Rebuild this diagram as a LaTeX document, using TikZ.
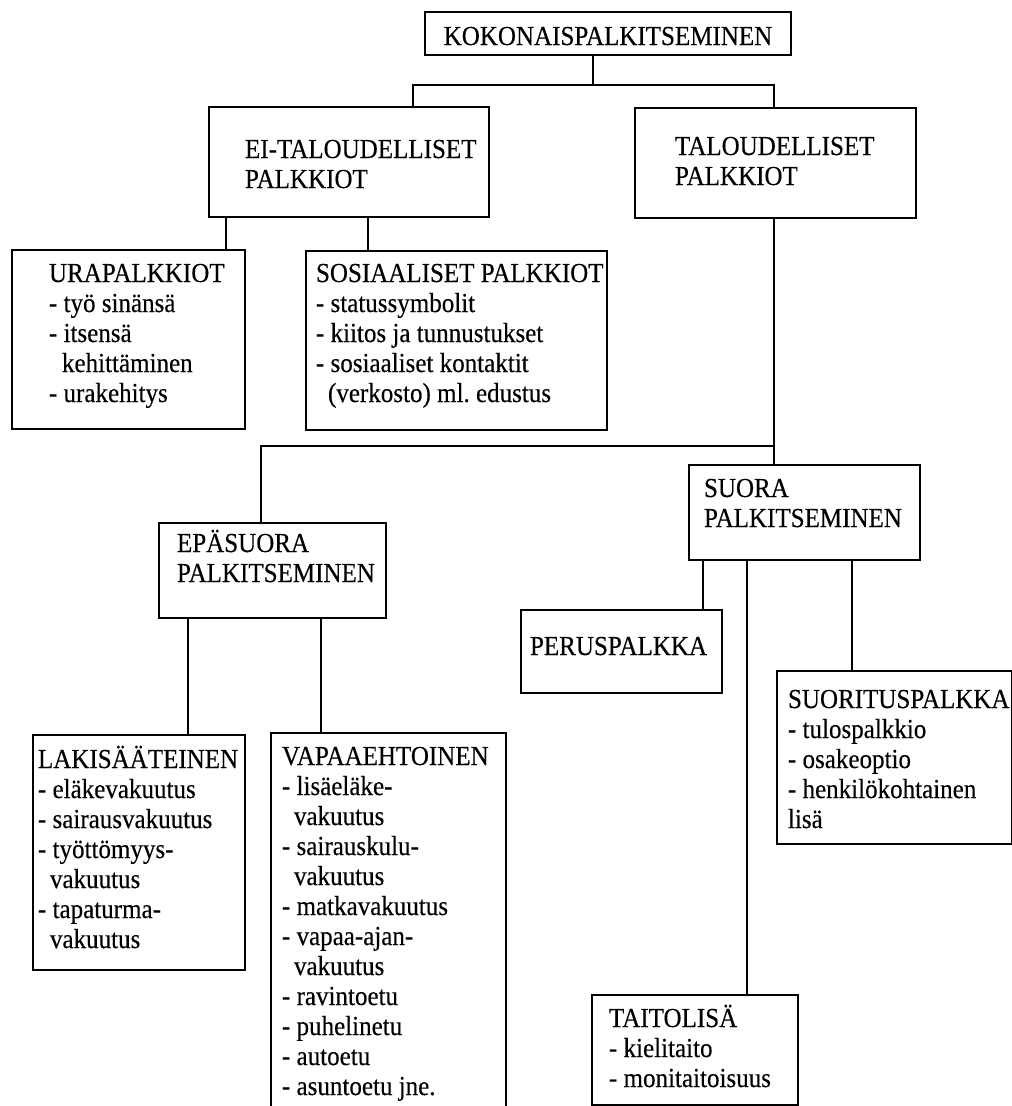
\documentclass[tikz,border=0pt]{standalone}
\usepackage{fontspec}
\setmainfont{Liberation Serif}[FakeStretch=0.91, FakeBold=0.3]
\frenchspacing

\begin{document}
\begin{tikzpicture}[
    x=1pt, y=-1pt,
    box/.style={draw, line width=2pt, inner sep=0pt, anchor=north west,
                align=flush left, font=\fontsize{27.5}{30}\selectfont},
    link/.style={line width=2pt},
]
    \useasboundingbox (0,0) rectangle (1012,1106);

    % Top levels
    \node[box, align=center, minimum width=366pt, text height=33pt, text depth=10pt] (kok) at (424,11) {KOKONAISPALKITSEMINEN};
    \node[box, minimum width=280pt, text width=208pt, text height=51pt, text depth=59pt] (ei) at (208,106) {\mbox{EI-TALOUDELLISET}\\PALKKIOT};
    \node[box, minimum width=281pt, text width=201pt, text height=47pt, text depth=63pt] (tal) at (634,107) {TALOUDELLISET\\PALKKIOT};

    % Non-financial
    \node[box, minimum width=233pt, text width=159pt, text height=32pt, text depth=147pt] (ura) at (11,249) {URAPALKKIOT\\- työ sinänsä\\- itsensä\\\hspace*{13pt}kehittäminen\\- urakehitys};
    \node[box, minimum width=301pt, text width=281pt, text height=31pt, text depth=148pt] (sos) at (305,250) {\mbox{SOSIAALISET PALKKIOT}\\- statussymbolit\\- kiitos ja tunnustukset\\- sosiaaliset kontaktit\\\hspace*{12pt}(verkosto) ml. edustus};

    % Financial
    \node[box, minimum width=231pt, text width=201pt, text height=32pt, text depth=63pt] (suora) at (688,464) {SUORA\\PALKITSEMINEN};
    \node[box, minimum width=227pt, text width=191pt, text height=29pt, text depth=66pt] (epa) at (158,522) {EPÄSUORA\\PALKITSEMINEN};
    \node[box, minimum width=201pt, text width=183pt, text height=45pt, text depth=38pt] (perus) at (520,609) {PERUSPALKKA};
    \node[box, minimum width=235pt, text width=213pt, text height=37pt, text depth=136pt] (suor) at (776,670) {SUORITUSPALKKA\\- tulospalkkio\\- osakeoptio\\- henkilökohtainen\\lisä};
    \node[box, minimum width=212pt, text width=202pt, text height=33pt, text depth=202pt] (lak) at (32,734) {LAKISÄÄTEINEN\\- eläkevakuutus\\- sairausvakuutus\\- työttömyys-\\\hspace*{12pt}vakuutus\\- tapaturma-\\\hspace*{12pt}vakuutus};
    \node[box, minimum width=235pt, text width=213pt, text height=32pt, text depth=356pt] (vap) at (270,732) {VAPAAEHTOINEN\\- lisäeläke-\\\hspace*{12pt}vakuutus\\- sairauskulu-\\\hspace*{12pt}vakuutus\\- matkavakuutus\\- vapaa-ajan-\\\hspace*{12pt}vakuutus\\- ravintoetu\\- puhelinetu\\- autoetu\\- asuntoetu jne.};
    \node[box, minimum width=206pt, text width=172pt, text height=32pt, text depth=78pt] (taito) at (591,994) {TAITOLISÄ\\- kielitaito\\- monitaitoisuus};

    % Junctions
    \coordinate (jtop) at (593,85);
    \coordinate (jleft) at (413,85);
    \coordinate (jright) at (774,85);
    \coordinate (jmid) at (774,446);

    \draw[link] (kok.south -| jtop) -- (jtop);
    \draw[link] (ei.north -| jleft) -- (jleft) -- (jright) -- (tal.north -| jright);
    \draw[link] ([xshift=18pt]ei.south west) coordinate (e1) -- (e1 |- ura.north);
    \draw[link] ([xshift=160pt]ei.south west) coordinate (e2) -- (e2 |- sos.north);
    \draw[link] (tal.south -| jright) -- (suora.north -| jright);
    \draw[link] (jmid) -| ([xshift=103pt]epa.north west);
    \draw[link] ([xshift=30pt]epa.south west) coordinate (p1) -- (p1 |- lak.north);
    \draw[link] ([xshift=163pt]epa.south west) coordinate (p2) -- (p2 |- vap.north);
    \draw[link] ([xshift=15pt]suora.south west) coordinate (s1) -- (s1 |- perus.north);
    \draw[link] ([xshift=59pt]suora.south west) coordinate (s2) -- (s2 |- taito.north);
    \draw[link] ([xshift=164pt]suora.south west) coordinate (s3) -- (s3 |- suor.north);
\end{tikzpicture}
\end{document}
